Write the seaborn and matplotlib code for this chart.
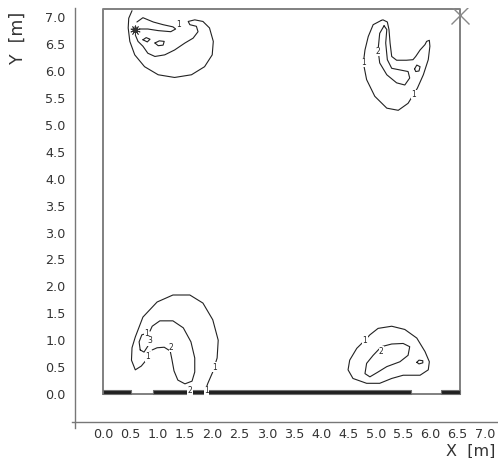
import numpy as np
import seaborn as sns
import matplotlib.pyplot as plt

# room size [m]
room_w = 6.55
room_h = 7.15

# ticks
tick_vals = np.arange(0.0, 7.01, 0.5)
tick_labels = [f"{v:.1f}" for v in tick_vals]

# contour traces [m]
# top-left corner
tl1_x = [0.53, 0.47, 0.46, 0.49, 0.58, 0.76, 1.01, 1.31, 1.62, 1.86, 2.00, 2.02, 1.95, 1.83, 1.68, 1.56,
         1.59, 1.71, 1.74, 1.65, 1.50, 1.31, 1.13, 0.95, 0.82, 0.73, 0.64, 0.59]
tl1_y = [7.12, 6.98, 6.80, 6.55, 6.30, 6.08, 5.93, 5.88, 5.93, 6.08, 6.30, 6.55, 6.80, 6.92, 6.95, 6.92,
         6.86, 6.83, 6.73, 6.61, 6.52, 6.39, 6.30, 6.27, 6.33, 6.46, 6.55, 6.67]
tl2_x = [0.62, 0.73, 0.92, 1.10, 1.28, 1.33, 1.24, 1.01, 0.82, 0.66]
tl2_y = [6.91, 6.99, 6.91, 6.86, 6.82, 6.78, 6.73, 6.75, 6.78, 6.78]
tl3a_x = [0.73, 0.79, 0.86, 0.81, 0.73]
tl3a_y = [6.58, 6.62, 6.59, 6.54, 6.58]
tl3b_x = [0.95, 1.03, 1.12, 1.10, 1.01, 0.95]
tl3b_y = [6.52, 6.56, 6.55, 6.48, 6.47, 6.52]
inlet_x = [0.59]
inlet_y = [6.77]

# top-right corner
tr1_x = [5.10, 4.95, 4.86, 4.80, 4.77, 4.83, 4.98, 5.20, 5.41, 5.59, 5.76, 5.87, 5.96, 5.99, 5.98, 5.93,
         5.90, 5.81, 5.73, 5.68, 5.56, 5.38, 5.29, 5.26, 5.24, 5.21, 5.13, 5.10]
tr1_y = [6.94, 6.86, 6.64, 6.39, 6.15, 5.84, 5.53, 5.31, 5.27, 5.40, 5.68, 5.93, 6.21, 6.46, 6.57, 6.55,
         6.49, 6.39, 6.27, 6.21, 6.20, 6.20, 6.27, 6.52, 6.77, 6.91, 6.95, 6.94]
tr2_x = [5.15, 5.07, 5.04, 5.07, 5.20, 5.38, 5.53, 5.62, 5.59, 5.44, 5.29, 5.21, 5.18, 5.20, 5.15]
tr2_y = [6.84, 6.70, 6.39, 6.15, 5.93, 5.78, 5.74, 5.87, 5.99, 6.02, 6.05, 6.21, 6.52, 6.77, 6.84]
tr3_x = [5.71, 5.75, 5.81, 5.79, 5.73, 5.71]
tr3_y = [6.04, 6.11, 6.08, 6.00, 5.99, 6.04]

# bottom-left corner
bl1_x = [0.86, 0.79, 0.70, 0.59, 0.52, 0.53, 0.59, 0.73, 0.99, 1.28, 1.59, 1.83, 2.01, 2.11, 2.09, 2.01, 1.92, 1.87]
bl1_y = [0.78, 0.63, 0.52, 0.45, 0.63, 0.86, 1.06, 1.43, 1.71, 1.84, 1.84, 1.69, 1.38, 1.00, 0.67, 0.41, 0.20, 0.06]
bl2_x = [0.86, 0.90, 1.04, 1.28, 1.47, 1.61, 1.68, 1.68, 1.63, 1.50, 1.37, 1.30, 1.26, 1.23, 1.12, 0.99, 0.90]
bl2_y = [1.17, 1.26, 1.36, 1.36, 1.23, 0.97, 0.67, 0.41, 0.24, 0.19, 0.26, 0.43, 0.65, 0.80, 0.87, 0.86, 0.82]
bl3_x = [0.68, 0.66, 0.71, 0.81, 0.86, 0.82, 0.75, 0.68]
bl3_y = [0.82, 0.97, 1.10, 1.13, 1.04, 0.89, 0.78, 0.82]

# bottom-right corner
br1_x = [4.80, 4.65, 4.52, 4.49, 4.58, 4.83, 5.07, 5.29, 5.50, 5.81, 5.96, 5.98, 5.90, 5.75, 5.53, 5.29, 5.04, 4.89, 4.80]
br1_y = [1.00, 0.85, 0.63, 0.45, 0.29, 0.20, 0.20, 0.29, 0.35, 0.35, 0.45, 0.60, 0.79, 1.04, 1.20, 1.26, 1.22, 1.10, 1.00]
br2_x = [5.10, 4.95, 4.83, 4.80, 4.89, 5.04, 5.20, 5.44, 5.59, 5.62, 5.50, 5.29, 5.10]
br2_y = [0.88, 0.72, 0.57, 0.38, 0.32, 0.41, 0.51, 0.60, 0.72, 0.88, 0.94, 0.93, 0.88]
br3_x = [5.75, 5.79, 5.86, 5.86, 5.79, 5.75]
br3_y = [0.59, 0.63, 0.62, 0.58, 0.56, 0.59]

# contour labels
lab_x = [1.39, 5.03, 4.77, 5.70, 0.79, 0.86, 1.25, 0.82, 2.05, 1.59, 1.89, 4.80, 5.10]
lab_y = [6.86, 6.36, 6.16, 5.56, 1.12, 0.99, 0.87, 0.69, 0.50, 0.06, 0.06, 1.00, 0.80]
lab_t = ["1", "2", "1", "1", "1", "3", "2", "1", "1", "2", "1", "1", "2"]

# floor openings (start, width) [m]
floor_start = [0.00, 0.91, 6.20]
floor_width = [0.52, 4.74, 0.35]
floor_h = 0.07

# corner marker
mark_x = [6.55]
mark_y = [7.04]

sns.set_style("white")
plt.rcParams['font.family'] = ['DejaVu Sans']

fig = plt.figure(figsize=(4.98, 4.58), dpi=100)
ax = fig.add_axes([72 / 498, 30 / 458, 425 / 498, 420 / 458])
ax.set_xlim(-0.57, 7.22)
ax.set_ylim(-0.63, 7.17)

# room outline
ax.plot([0, room_w, room_w, 0, 0], [0, 0, room_h, room_h, 0], color="#808080", lw=1.4, zorder=1)

# floor openings
ax.broken_barh(list(zip(floor_start, floor_width)), (0, floor_h),
               facecolors="#202020", edgecolors="#707070", linewidth=0.8, zorder=2)

traces = [(tl1_x, tl1_y), (tl2_x, tl2_y), (tl3a_x, tl3a_y), (tl3b_x, tl3b_y),
          (tr1_x, tr1_y), (tr2_x, tr2_y), (tr3_x, tr3_y),
          (bl1_x, bl1_y), (bl2_x, bl2_y), (bl3_x, bl3_y),
          (br1_x, br1_y), (br2_x, br2_y), (br3_x, br3_y)]
for tx, ty in traces:
    sns.lineplot(x=tx, y=ty, sort=False, estimator=None, color="#222222", lw=0.8, ax=ax, zorder=3)

for x, y, t in zip(lab_x, lab_y, lab_t):
    ax.text(x, y, t, fontsize=5.5, ha="center", va="center", color="#222222", zorder=4,
            bbox=dict(facecolor="white", edgecolor="none", pad=0.2))

# inlet symbol
ax.scatter(inlet_x, inlet_y, marker=(10, 2, 0), s=45, color="#333333", lw=0.6, zorder=5)
ax.scatter(inlet_x, inlet_y, marker="o", s=14, facecolor="none", edgecolor="#333333", lw=0.6, zorder=5)

ax.plot(mark_x, mark_y, marker="x", markersize=13, color="#888888", mew=1.0, ls="none", zorder=5)

# axes styling
for s in ["top", "right"]:
    ax.spines[s].set_visible(False)
ax.spines["left"].set_position(("data", -0.51))
ax.spines["bottom"].set_position(("data", -0.52))
for s in ["left", "bottom"]:
    ax.spines[s].set_color("#777777")
    ax.spines[s].set_linewidth(1.0)

ax.set_xticks(tick_vals)
ax.set_xticklabels(tick_labels)
ax.set_yticks(tick_vals)
ax.set_yticklabels(tick_labels)
ax.tick_params(axis="both", direction="inout", length=8, width=0.9, color="#777777",
               labelsize=9.2, labelcolor="#333333")
ax.tick_params(axis="x", pad=0.5)
ax.tick_params(axis="y", pad=3)

fig.text(495 / 498, 2.5 / 458, "X  [m]", fontsize=11.5, color="#333333", ha="right", va="baseline")
fig.text(18 / 498, 1 - 38 / 458, "Y  [m]", fontsize=12.5, color="#333333", rotation=90, ha="center", va="center")

fig.savefig("out.png", dpi=100)
